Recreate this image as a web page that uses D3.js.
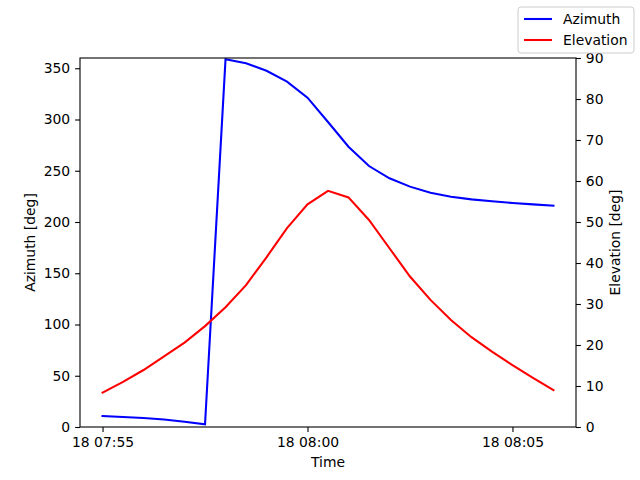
<!DOCTYPE html>
<html lang="en">
<head>
  <meta charset="UTF-8">
  <title>Azimuth / Elevation</title>
  <script src="https://d3js.org/d3.v7.min.js"></script>
  <style>
    body { margin: 0; background: #fff; }
    text { font-family: "DejaVu Sans", sans-serif; font-size: 13.9px; fill: #000; }
    .axis path, .axis line { stroke: #000; stroke-width: 1.1px; }
    .axis text { font-size: 13.9px; font-family: "DejaVu Sans", sans-serif; }
  </style>
</head>
<body>
<svg id="chart" width="640" height="480"></svg>

<script>
// sample times (18th, 30 s steps)
const times = [
  "07:55:00", "07:55:30", "07:56:00", "07:56:30", "07:57:00", "07:57:30",
  "07:58:00", "07:58:30", "07:59:00", "07:59:30", "08:00:00", "08:00:30",
  "08:01:00", "08:01:30", "08:02:00", "08:02:30", "08:03:00", "08:03:30",
  "08:04:00", "08:04:30", "08:05:00", "08:05:30", "08:06:00"
];
const azimuth = [
  10.7, 9.8, 8.8, 7.4, 5.2, 2.6,
  358.7, 354.8, 347.6, 336.9, 321.3, 297.6,
  273.5, 254.6, 242.6, 234.5, 228.6, 224.7,
  222.1, 220.2, 218.5, 217.2, 215.9
];
const elevation = [
  8.4, 11.0, 13.9, 17.2, 20.6, 24.6,
  29.2, 34.6, 41.4, 48.5, 54.3, 57.6,
  56.0, 50.5, 43.6, 36.7, 31.0, 26.1,
  21.9, 18.4, 15.1, 12.0, 9.0
];
const azTicks = [0, 50, 100, 150, 200, 250, 300, 350];
const elTicks = [0, 10, 20, 30, 40, 50, 60, 70, 80, 90];
const timeTicks = ["07:55:00", "08:00:00", "08:05:00"];

const parse = d3.utcParse("%Y-%m-%d %H:%M:%S");
const toDate = t => parse("2024-01-18 " + t);
const dates = times.map(toDate);

const svg = d3.select("#chart");
const m = { left: 80, right: 576, top: 58, bottom: 427 };

// 5% margins like matplotlib
const t0 = dates[0], t1 = dates[dates.length - 1];
const pad = (t1 - t0) * 0.05;
const x = d3.scaleUtc()
  .domain([new Date(+t0 - pad), new Date(+t1 + pad)])
  .range([m.left, m.right]);
const yAz = d3.scaleLinear().domain([0, 360]).range([m.bottom, m.top]);
const yEl = d3.scaleLinear().domain([0, 90]).range([m.bottom, m.top]);

const fmt = d3.utcFormat("%d %H:%M");

svg.append("g")
    .attr("class", "axis")
    .attr("transform", `translate(0,${m.bottom})`)
    .call(d3.axisBottom(x).tickValues(timeTicks.map(toDate)).tickFormat(fmt)
      .tickSize(4.9).tickPadding(4.9).tickSizeOuter(0))
    .call(g => g.select(".domain").remove());

svg.append("g")
    .attr("class", "axis")
    .attr("transform", `translate(${m.left},0)`)
    .call(d3.axisLeft(yAz).tickValues(azTicks).tickSize(4.9).tickPadding(4.9).tickSizeOuter(0))
    .call(g => g.select(".domain").remove());

svg.append("g")
    .attr("class", "axis")
    .attr("transform", `translate(${m.right},0)`)
    .call(d3.axisRight(yEl).tickValues(elTicks).tickSize(4.9).tickPadding(4.9).tickSizeOuter(0))
    .call(g => g.select(".domain").remove());

svg.selectAll(".axis text").attr("fill", "#000");

const lineAz = d3.line().x((d, i) => x(dates[i])).y(d => yAz(d));
const lineEl = d3.line().x((d, i) => x(dates[i])).y(d => yEl(d));

svg.append("path")
    .datum(azimuth)
    .attr("d", lineAz)
    .attr("fill", "none")
    .attr("stroke", "#0000ff")
    .attr("stroke-width", 2.08)
    .attr("stroke-linecap", "square");

svg.append("path")
    .datum(elevation)
    .attr("d", lineEl)
    .attr("fill", "none")
    .attr("stroke", "#ff0000")
    .attr("stroke-width", 2.08)
    .attr("stroke-linecap", "square");

// frame
svg.append("rect")
    .attr("x", m.left).attr("y", m.top)
    .attr("width", m.right - m.left).attr("height", m.bottom - m.top)
    .attr("fill", "none").attr("stroke", "#000").attr("stroke-width", 1.1);

// axis labels
svg.append("text")
    .attr("x", (m.left + m.right) / 2).attr("y", 467)
    .attr("text-anchor", "middle").text("Time");
svg.append("text")
    .attr("transform", `translate(35,${(m.top + m.bottom) / 2}) rotate(-90)`)
    .attr("text-anchor", "middle").text("Azimuth [deg]");
svg.append("text")
    .attr("transform", `translate(620,${(m.top + m.bottom) / 2}) rotate(-90)`)
    .attr("text-anchor", "middle").text("Elevation [deg]");

// legend (figure upper right)
const legend = [
  { name: "Azimuth", color: "#0000ff" },
  { name: "Elevation", color: "#ff0000" }
];
const lg = svg.append("g").attr("transform", "translate(518,7)");
lg.append("rect")
    .attr("width", 116).attr("height", 46).attr("rx", 3)
    .attr("fill", "#fff").attr("fill-opacity", 0.8)
    .attr("stroke", "#cccccc").attr("stroke-width", 1);
lg.selectAll("g.item")
  .data(legend)
  .join("g")
    .attr("class", "item")
    .attr("transform", (d, i) => `translate(0,${12 + i * 21})`)
    .each(function(d) {
      const g = d3.select(this);
      g.append("line").attr("x1", 6).attr("x2", 34)
        .attr("stroke", d.color).attr("stroke-width", 2.08);
      g.append("text").attr("x", 45).attr("dy", "0.35em").text(d.name);
    });
</script>
</body>
</html>
